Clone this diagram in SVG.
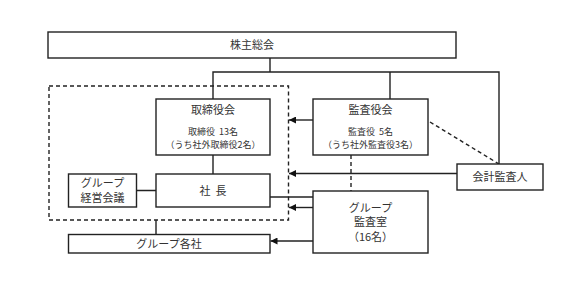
<svg xmlns="http://www.w3.org/2000/svg" width="577" height="298" viewBox="0 0 577 298">
<defs>
<style>
.box{fill:#fff;stroke:#222;stroke-width:1.4}
.ln{fill:none;stroke:#222;stroke-width:1.4}
.dash{fill:none;stroke:#222;stroke-width:1.4;stroke-dasharray:4 3}
text{font-family:"Noto Sans CJK JP","Liberation Serif",serif;font-size:11px;fill:#333;text-anchor:middle;white-space:pre}
.sm{font-size:9px}
</style>
<marker id="ah" viewBox="0 0 10 10" refX="10" refY="5" markerWidth="7" markerHeight="7" markerUnits="userSpaceOnUse" orient="auto">
<path d="M0,0L10,5L0,10z" fill="#111"/>
</marker>
</defs>
<rect width="577" height="298" fill="#fff"/>
<g id="connectors">
<path class="ln" d="M270,58V72M213,99V72H499V164M390,72V99"/>
<rect class="dash" x="49" y="86" width="239.5" height="134"/>
<path class="ln" d="M313,120H289" marker-end="url(#ah)"/>
<path class="ln" d="M457,173.5H289" marker-end="url(#ah)"/>
<path class="ln" d="M313,207.5H289" marker-end="url(#ah)"/>
<path class="ln" d="M313,241H270.5" marker-end="url(#ah)"/>
<path class="ln" d="M270,197H313"/>
<path class="ln" d="M213,155V174M137,190.5H156M156,220V234.5"/>
<path class="dash" d="M430,122L499,164M351,155V191"/>
</g>
<g id="shareholders"><rect class="box" x="48" y="32" width="408" height="26"/><text x="252" y="49">株主総会</text></g>
<g id="board"><rect class="box" x="156" y="99" width="114" height="56"/><text x="213" y="114">取締役会</text><text class="sm" x="213" y="135">取締役  13名</text><text class="sm" x="213" y="148">（うち社外取締役2名）</text></g>
<g id="auditors"><rect class="box" x="313" y="99" width="115" height="56"/><text x="370.5" y="114">監査役会</text><text class="sm" x="370.5" y="135">監査役  5名</text><text class="sm" x="370.5" y="148">（うち社外監査役3名）</text></g>
<g id="accounting-auditor"><rect class="box" x="457" y="164" width="86" height="26"/><text x="500" y="181">会計監査人</text></g>
<g id="president"><rect class="box" x="156" y="174" width="114" height="33"/><text x="213" y="194.5">社  長</text></g>
<g id="group-mgmt"><rect class="box" x="68.5" y="174" width="68" height="33"/><text x="102.5" y="186.5">グループ</text><text x="102.5" y="201.5">経営会議</text></g>
<g id="group-audit"><rect class="box" x="313" y="191" width="115" height="62"/><text x="370.5" y="211.5">グループ</text><text x="370.5" y="226">監査室</text><text x="370.5" y="240.5">（16名）</text></g>
<g id="group-companies"><rect class="box" x="68.5" y="234.5" width="201.5" height="18.5"/><text x="169" y="248">グループ各社</text></g>
</svg>
